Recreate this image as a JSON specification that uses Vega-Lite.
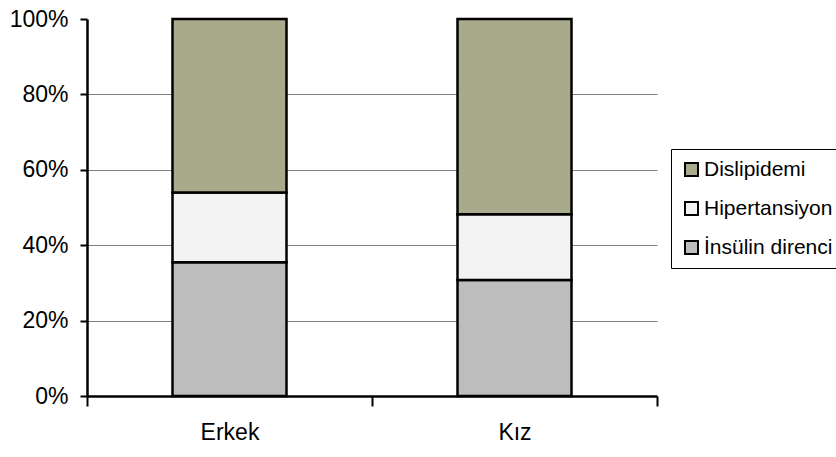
{
  "$schema": "https://vega.github.io/schema/vega-lite/v6.json",
  "width": 570,
  "height": 377,
  "autosize": "none",
  "padding": {"left": 87, "top": 19, "right": 179, "bottom": 61},
  "background": "white",
  "data": {
    "values": [
      {"cinsiyet": "Erkek", "grup": "İnsülin direnci", "yuzde": 35.5},
      {"cinsiyet": "Erkek", "grup": "Hipertansiyon", "yuzde": 18.5},
      {"cinsiyet": "Erkek", "grup": "Dislipidemi", "yuzde": 46.0},
      {"cinsiyet": "Kız", "grup": "İnsülin direnci", "yuzde": 30.8},
      {"cinsiyet": "Kız", "grup": "Hipertansiyon", "yuzde": 17.4},
      {"cinsiyet": "Kız", "grup": "Dislipidemi", "yuzde": 51.8}
    ]
  },
  "transform": [
    {"calculate": "indexof(['İnsülin direnci', 'Hipertansiyon', 'Dislipidemi'], datum.grup)", "as": "sira"}
  ],
  "mark": {"type": "bar", "stroke": "black", "strokeWidth": 2.5, "width": {"band": 0.4}},
  "encoding": {
    "x": {
      "field": "cinsiyet",
      "type": "nominal",
      "sort": ["Erkek", "Kız"],
      "scale": {"paddingInner": 0, "paddingOuter": 0},
      "axis": {
        "title": null,
        "labelAngle": 0,
        "tickBand": "extent",
        "domainColor": "black",
        "domainWidth": 2.5,
        "tickColor": "black",
        "tickWidth": 2,
        "tickSize": 10,
        "labelPadding": 15,
        "labelFont": "Liberation Sans",
        "labelFontSize": 23,
        "labelColor": "black",
        "labelBaseline": "top"
      }
    },
    "y": {
      "field": "yuzde",
      "type": "quantitative",
      "stack": "zero",
      "scale": {"domain": [0, 100], "nice": false, "zero": true},
      "axis": {
        "title": null,
        "values": [0, 20, 40, 60, 80, 100],
        "labelExpr": "datum.value + '%'",
        "grid": true,
        "gridColor": {"condition": {"test": "datum.value == 100 || datum.value == 0", "value": "transparent"}, "value": "#808080"},
        "gridWidth": 1,
        "domainColor": "black",
        "domainWidth": 2.5,
        "tickColor": "black",
        "tickWidth": 2,
        "tickSize": 7,
        "labelPadding": 12,
        "labelFont": "Liberation Sans",
        "labelFontSize": 23,
        "labelColor": "black"
      }
    },
    "color": {
      "field": "grup",
      "type": "nominal",
      "scale": {
        "domain": ["Dislipidemi", "Hipertansiyon", "İnsülin direnci"],
        "range": ["#a9a98b", "#f3f3f3", "#bdbdbd"]
      },
      "legend": {
        "title": null,
        "orient": "none",
        "legendX": 584,
        "legendY": 130,
        "padding": 10,
        "strokeColor": "black",
        "symbolType": "square",
        "symbolSize": 169,
        "symbolStrokeColor": "black",
        "symbolStrokeWidth": 2,
        "symbolOpacity": 1,
        "labelFont": "Liberation Sans",
        "labelFontSize": 21,
        "labelColor": "black",
        "labelOffset": 2,
        "rowPadding": 17
      }
    },
    "order": {"field": "sira", "type": "quantitative"}
  },
  "config": {
    "view": {"stroke": null}
  }
}
